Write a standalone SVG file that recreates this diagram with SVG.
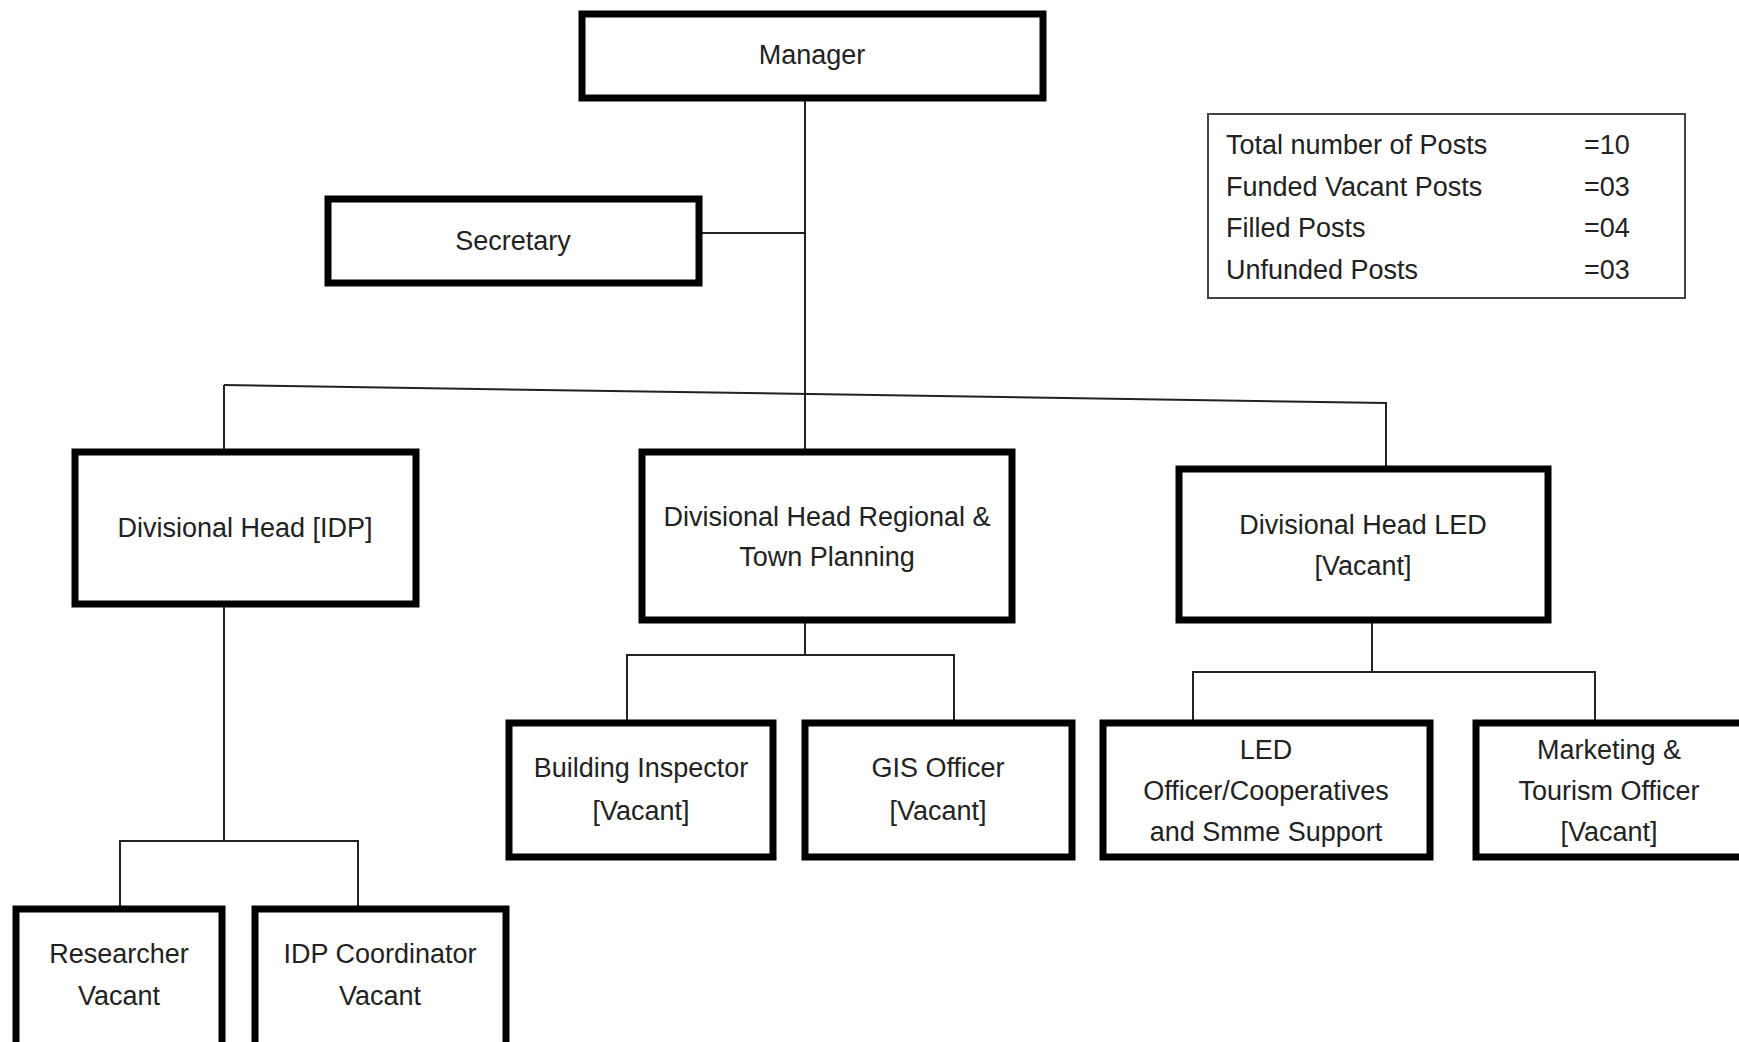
<svg xmlns="http://www.w3.org/2000/svg" width="1739" height="1042" viewBox="0 0 1739 1042">
<style>
.box{fill:#fff;stroke:#000;stroke-width:7}
.t{font-family:"Liberation Sans Narrow","Liberation Sans",sans-serif;font-size:27px;fill:#222;text-anchor:middle;dominant-baseline:central}
.lg{font-family:"Liberation Sans Narrow","Liberation Sans",sans-serif;font-size:27px;fill:#222;dominant-baseline:central}
.c{fill:none;stroke:#222;stroke-width:2}
</style>
<rect width="1739" height="1042" fill="#fff"/>
<g id="connectors">
<path class="c" d="M805 100 V449"/>
<path class="c" d="M702 233 H805"/>
<path class="c" d="M224 385 L1386 403 V466"/>
<path class="c" d="M224 385 V449"/>
<path class="c" d="M224 606 V841 M120 906 V841 H358 V906"/>
<path class="c" d="M805 622 V655 M627 720 V655 H954 V720"/>
<path class="c" d="M1372 622 V672 M1193 720 V672 H1595 V720"/>
</g>
<g id="manager"><rect class="box" x="582" y="14" width="461" height="84"/><text class="t" x="812" y="55">Manager</text></g>
<g id="secretary"><rect class="box" x="328" y="199" width="371" height="84"/><text class="t" x="513" y="241">Secretary</text></g>
<g id="legend"><rect x="1208" y="114" width="477" height="184" fill="#fff" stroke="#444" stroke-width="2"/>
<text class="lg" x="1226" y="145">Total number of Posts</text><text class="lg" x="1584" y="145">=10</text>
<text class="lg" x="1226" y="187">Funded Vacant Posts</text><text class="lg" x="1584" y="187">=03</text>
<text class="lg" x="1226" y="228">Filled Posts</text><text class="lg" x="1584" y="228">=04</text>
<text class="lg" x="1226" y="270">Unfunded Posts</text><text class="lg" x="1584" y="270">=03</text></g>
<g id="div-idp"><rect class="box" x="75" y="452" width="341" height="152"/><text class="t" x="245" y="528">Divisional Head [IDP]</text></g>
<g id="div-regional"><rect class="box" x="642" y="452" width="370" height="168"/><text class="t" x="827" y="517">Divisional Head Regional &amp;</text><text class="t" x="827" y="557">Town Planning</text></g>
<g id="div-led"><rect class="box" x="1179" y="469" width="369" height="151"/><text class="t" x="1363" y="525">Divisional Head LED</text><text class="t" x="1363" y="566">[Vacant]</text></g>
<g id="researcher"><rect class="box" x="16" y="909" width="206" height="140"/><text class="t" x="119" y="954">Researcher</text><text class="t" x="119" y="996">Vacant</text></g>
<g id="idp-coordinator"><rect class="box" x="255" y="909" width="251" height="140"/><text class="t" x="380" y="954">IDP Coordinator</text><text class="t" x="380" y="996">Vacant</text></g>
<g id="building-inspector"><rect class="box" x="509" y="723" width="264" height="134"/><text class="t" x="641" y="768">Building Inspector</text><text class="t" x="641" y="811">[Vacant]</text></g>
<g id="gis-officer"><rect class="box" x="805" y="723" width="267" height="134"/><text class="t" x="938" y="768">GIS Officer</text><text class="t" x="938" y="811">[Vacant]</text></g>
<g id="led-officer"><rect class="box" x="1103" y="723" width="327" height="134"/><text class="t" x="1266" y="750">LED</text><text class="t" x="1266" y="791">Officer/Cooperatives</text><text class="t" x="1266" y="832">and Smme Support</text></g>
<g id="marketing"><rect class="box" x="1476" y="723" width="280" height="134"/><text class="t" x="1609" y="750">Marketing &amp;</text><text class="t" x="1609" y="791">Tourism Officer</text><text class="t" x="1609" y="832">[Vacant]</text></g>
</svg>
